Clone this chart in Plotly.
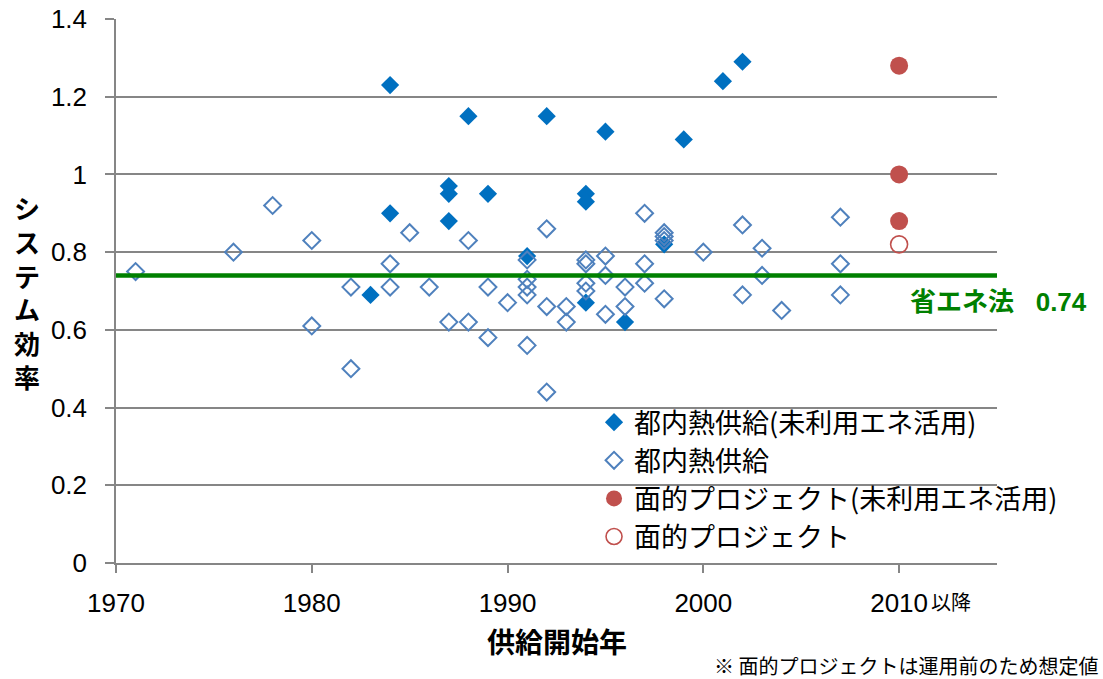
import plotly.graph_objects as go

# ---- data ----
unused_x = [1983, 1984, 1984, 1987, 1987, 1987, 1988, 1989, 1991, 1992, 1994, 1994, 1994,
            1995, 1996, 1998, 1999, 2001, 2002]
unused_y = [0.69, 1.23, 0.90, 0.97, 0.95, 0.88, 1.15, 0.95, 0.79, 1.15, 0.95, 0.93, 0.67,
            1.11, 0.62, 0.82, 1.09, 1.24, 1.29]

dhc_x = [1971, 1976, 1978, 1980, 1980, 1982, 1982, 1984, 1984, 1985, 1986, 1987, 1988, 1988,
         1989, 1989, 1990, 1991, 1991, 1991, 1991, 1991, 1992, 1992, 1992, 1993, 1993,
         1994, 1994, 1994, 1994, 1995, 1995, 1995, 1996, 1996, 1997, 1997, 1997,
         1998, 1998, 1998, 1998, 2000, 2002, 2002, 2003, 2003, 2004, 2007, 2007, 2007]
dhc_y = [0.75, 0.80, 0.92, 0.83, 0.61, 0.71, 0.50, 0.77, 0.71, 0.85, 0.71, 0.62, 0.83, 0.62,
         0.71, 0.58, 0.67, 0.78, 0.73, 0.71, 0.69, 0.56, 0.86, 0.66, 0.44, 0.66, 0.62,
         0.78, 0.77, 0.72, 0.70, 0.79, 0.74, 0.64, 0.71, 0.66, 0.90, 0.77, 0.72,
         0.85, 0.84, 0.83, 0.68, 0.80, 0.87, 0.69, 0.81, 0.74, 0.65, 0.89, 0.77, 0.69]

area_unused_x = [2010, 2010, 2010]
area_unused_y = [1.28, 1.00, 0.88]
area_x = [2010]
area_y = [0.82]

standard_value = 0.74
standard_label = "省エネ法\u00a0\u00a0\u00a00.74"

x_range = [1970, 2015]
y_range = [0, 1.4]
x_tickvals = [1970, 1980, 1990, 2000, 2010]
x_ticktext = ["1970", "1980", "1990", "2000", "2010"]
y_tickvals = [0, 0.2, 0.4, 0.6, 0.8, 1.0, 1.2, 1.4]
y_ticktext = ["0", "0.2", "0.4", "0.6", "0.8", "1", "1.2", "1.4"]

names = ["都内熱供給(未利用エネ活用)", "都内熱供給",
         "面的プロジェクト(未利用エネ活用)", "面的プロジェクト"]

JP = "Noto Sans CJK JP"
LAT = "Liberation Sans, Noto Sans CJK JP"
GRAY = "#868686"

fig = go.Figure()
fig.add_trace(go.Scatter(x=unused_x, y=unused_y, mode="markers", name=names[0],
                         legendgroup="a",
                         marker=dict(symbol="diamond", size=14, color="#0070C0",
                                     line=dict(width=0))))
fig.add_trace(go.Scatter(x=dhc_x, y=dhc_y, mode="markers", name=names[1],
                         legendgroup="b",
                         marker=dict(symbol="diamond-open", size=13, color="#4F81BD",
                                     line=dict(width=2, color="#4F81BD"))))
fig.add_trace(go.Scatter(x=area_unused_x, y=area_unused_y, mode="markers", name=names[2],
                         legendgroup="c",
                         marker=dict(symbol="circle", size=18, color="#C0504D",
                                     line=dict(width=0))))
fig.add_trace(go.Scatter(x=area_x, y=area_y, mode="markers", name=names[3],
                         legendgroup="d",
                         marker=dict(symbol="circle-open", size=17, color="#C0504D",
                                     line=dict(width=1.6, color="#C0504D"))))
fig.add_trace(go.Scatter(x=x_range, y=[standard_value, standard_value], mode="lines",
                         showlegend=False, hoverinfo="skip",
                         line=dict(color="#008000", width=4.5)))

fig.update_layout(
    width=1103, height=679,
    margin=dict(l=116, r=106, t=19, b=116, autoexpand=False),
    paper_bgcolor="white", plot_bgcolor="white",
    font=dict(family=LAT, size=26, color="black"),
    showlegend=True,
    legend=dict(x=0.5426, y=0.303, xanchor="left", yanchor="top",
                bgcolor="rgba(0,0,0,0)", font=dict(family=JP, size=27, color="black"),
                tracegroupgap=0, traceorder="grouped"),
    xaxis=dict(range=x_range, tickvals=x_tickvals, ticktext=x_ticktext, automargin=False,
               showgrid=False, zeroline=False, showline=True, linecolor=GRAY, linewidth=1.5,
               ticks="outside", ticklen=8, tickcolor=GRAY, tickwidth=1.5,
               ticklabelstandoff=8, tickfont=dict(family=LAT, size=26)),
    yaxis=dict(range=y_range, tickvals=y_tickvals, ticktext=y_ticktext, automargin=False,
               showgrid=True, gridcolor=GRAY, gridwidth=1.5, zeroline=False,
               showline=True, linecolor=GRAY, linewidth=1.5,
               ticks="outside", ticklen=9, tickcolor=GRAY, tickwidth=1.5,
               ticklabelstandoff=13, tickfont=dict(family=LAT, size=26)),
)

annotations = [
    dict(text="<b>シ<br>ス<br>テ<br>ム<br>効<br>率</b>", xref="paper", yref="paper",
         x=-0.101, y=0.498, xanchor="center", yanchor="middle", showarrow=False,
         font=dict(family=JP, size=26, color="black"), align="center"),
    dict(text="<b>供給開始年</b>", xref="paper", yref="paper", x=0.5, y=-0.143,
         xanchor="center", yanchor="middle", showarrow=False,
         font=dict(family=JP, size=28, color="black")),
    dict(text="※ 面的プロジェクトは運用前のため想定値", xref="paper", yref="paper",
         x=1.117, y=-0.188, xanchor="right", yanchor="middle", showarrow=False,
         font=dict(family=JP, size=20, color="black")),
    dict(text="以降", xref="x", yref="paper", x=2010, y=0, xanchor="left",
         yanchor="middle", xshift=30, yshift=-38, showarrow=False,
         font=dict(family=JP, size=20, color="black")),
    dict(text="<b>" + standard_label + "</b>", xref="paper", yref="y", x=0.899,
         y=0.672, xanchor="left", yanchor="middle", showarrow=False,
         font=dict(family=LAT, size=26, color="#008000")),
]
fig.update_layout(annotations=annotations)

fig.write_html("out.html", config={"displayModeBar": False},
               post_script="document.body.style.margin='0px';")
